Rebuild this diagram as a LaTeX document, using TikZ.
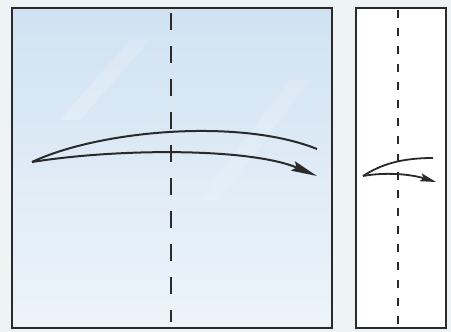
\documentclass[tikz,border=0pt]{standalone}
\usetikzlibrary{arrows.meta}
\definecolor{bgpaper}{HTML}{EEF3F6}
\definecolor{ink}{HTML}{2A2A2A}
\definecolor{skytop}{HTML}{D0E2F2}
\definecolor{skybot}{HTML}{EDF4FA}
\tikzset{
  paper/.style={draw=ink, line width=2pt},
  fold/.style={draw=ink, line width=2pt, dash pattern=on 17pt off 16pt},
  foldsmall/.style={draw=ink, line width=1.8pt, dash pattern=on 8pt off 10pt},
  movearrow/.style={draw=ink, line width=2pt, -{Stealth[length=26pt,width=10pt,inset=4pt]}},
  movearrowsmall/.style={draw=ink, line width=1.8pt, -{Stealth[length=16pt,width=8pt,inset=3pt]}},
  arcline/.style={draw=ink, line width=2pt}
}
\begin{document}
\begin{tikzpicture}[x=1pt,y=-1pt]
\fill[bgpaper] (0,0) rectangle (451,332);
\useasboundingbox (0,0) rectangle (451,332);
% big square
\shade[top color=skytop, bottom color=skybot] (12,8) rectangle (332,328);
\fill[white, opacity=0.18] (60,120) -- (130,40) -- (150,40) -- (80,120) -- cycle;
\fill[white, opacity=0.15] (200,200) -- (290,80) -- (310,80) -- (220,200) -- cycle;
\draw[paper] (12,8) rectangle (332,328);
\coordinate (ftop) at (171,13);
\coordinate (fbot) at (171,322);
\draw[fold] (ftop) -- (fbot);
\coordinate (a0) at (32,162);
\coordinate (a1) at (317,149);
\coordinate (a2) at (317,176);
\draw[arcline] (a0) .. controls (100,130) and (240,118) .. (a1);
\draw[movearrow] (a0) .. controls (120,148) and (250,148) .. (a2);
% narrow strip
\fill[white] (356,8) rectangle (446,328);
\draw[paper] (356,8) rectangle (446,328);
\coordinate (gtop) at (398,10);
\coordinate (gbot) at (398,326);
\draw[foldsmall] (gtop) -- (gbot);
\coordinate (b0) at (363,176);
\coordinate (b1) at (433,158);
\coordinate (b2) at (436,182);
\draw[arcline, line width=1.8pt] (b0) .. controls (380,165) and (400,158) .. (b1);
\draw[movearrowsmall] (b0) .. controls (385,172) and (410,174) .. (b2);
\end{tikzpicture}
\end{document}
